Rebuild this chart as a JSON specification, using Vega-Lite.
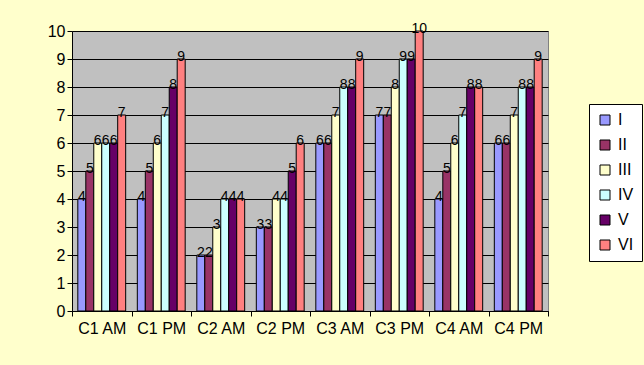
{
  "$schema": "https://vega.github.io/schema/vega-lite/v6.json",
  "width": 476,
  "height": 280,
  "autosize": {"type": "none"},
  "padding": {"left": 72, "top": 31, "right": 96, "bottom": 54},
  "background": "#FFFFCC",
  "config": {
    "view": {"fill": "#C0C0C0", "stroke": "#808080", "strokeWidth": 1},
    "font": "Liberation Sans"
  },
  "data": {
    "values": [
      {"cat": "C1 AM", "series": "I", "value": 4},
      {"cat": "C1 AM", "series": "II", "value": 5},
      {"cat": "C1 AM", "series": "III", "value": 6},
      {"cat": "C1 AM", "series": "IV", "value": 6},
      {"cat": "C1 AM", "series": "V", "value": 6},
      {"cat": "C1 AM", "series": "VI", "value": 7},
      {"cat": "C1 PM", "series": "I", "value": 4},
      {"cat": "C1 PM", "series": "II", "value": 5},
      {"cat": "C1 PM", "series": "III", "value": 6},
      {"cat": "C1 PM", "series": "IV", "value": 7},
      {"cat": "C1 PM", "series": "V", "value": 8},
      {"cat": "C1 PM", "series": "VI", "value": 9},
      {"cat": "C2 AM", "series": "I", "value": 2},
      {"cat": "C2 AM", "series": "II", "value": 2},
      {"cat": "C2 AM", "series": "III", "value": 3},
      {"cat": "C2 AM", "series": "IV", "value": 4},
      {"cat": "C2 AM", "series": "V", "value": 4},
      {"cat": "C2 AM", "series": "VI", "value": 4},
      {"cat": "C2 PM", "series": "I", "value": 3},
      {"cat": "C2 PM", "series": "II", "value": 3},
      {"cat": "C2 PM", "series": "III", "value": 4},
      {"cat": "C2 PM", "series": "IV", "value": 4},
      {"cat": "C2 PM", "series": "V", "value": 5},
      {"cat": "C2 PM", "series": "VI", "value": 6},
      {"cat": "C3 AM", "series": "I", "value": 6},
      {"cat": "C3 AM", "series": "II", "value": 6},
      {"cat": "C3 AM", "series": "III", "value": 7},
      {"cat": "C3 AM", "series": "IV", "value": 8},
      {"cat": "C3 AM", "series": "V", "value": 8},
      {"cat": "C3 AM", "series": "VI", "value": 9},
      {"cat": "C3 PM", "series": "I", "value": 7},
      {"cat": "C3 PM", "series": "II", "value": 7},
      {"cat": "C3 PM", "series": "III", "value": 8},
      {"cat": "C3 PM", "series": "IV", "value": 9},
      {"cat": "C3 PM", "series": "V", "value": 9},
      {"cat": "C3 PM", "series": "VI", "value": 10},
      {"cat": "C4 AM", "series": "I", "value": 4},
      {"cat": "C4 AM", "series": "II", "value": 5},
      {"cat": "C4 AM", "series": "III", "value": 6},
      {"cat": "C4 AM", "series": "IV", "value": 7},
      {"cat": "C4 AM", "series": "V", "value": 8},
      {"cat": "C4 AM", "series": "VI", "value": 8},
      {"cat": "C4 PM", "series": "I", "value": 6},
      {"cat": "C4 PM", "series": "II", "value": 6},
      {"cat": "C4 PM", "series": "III", "value": 7},
      {"cat": "C4 PM", "series": "IV", "value": 8},
      {"cat": "C4 PM", "series": "V", "value": 8},
      {"cat": "C4 PM", "series": "VI", "value": 9}
    ]
  },
  "encoding": {
    "x": {
      "field": "cat",
      "type": "nominal",
      "sort": null,
      "scale": {"paddingInner": 0, "paddingOuter": 0},
      "axis": {
        "title": null,
        "labelAngle": 0,
        "labelFontSize": 16,
        "labelColor": "black",
        "domainColor": "black",
        "tickColor": "black",
        "tickBand": "extent",
        "tickSize": 5,
        "labelPadding": 4
      }
    },
    "xOffset": {
      "field": "series",
      "sort": null,
      "scale": {"paddingInner": 0, "paddingOuter": 0.73}
    },
    "y": {
      "field": "value",
      "type": "quantitative",
      "scale": {"domain": [0, 10], "nice": false},
      "axis": {
        "title": null,
        "values": [0, 1, 2, 3, 4, 5, 6, 7, 8, 9, 10],
        "labelOverlap": false,
        "labelFontSize": 16,
        "labelColor": "black",
        "domainColor": "black",
        "tickColor": "black",
        "gridColor": "black",
        "gridOpacity": 1,
        "tickSize": 5,
        "labelPadding": 2
      }
    }
  },
  "layer": [
    {
      "mark": {"type": "bar", "stroke": "black", "strokeWidth": 1},
      "encoding": {
        "color": {
          "field": "series",
          "type": "nominal",
          "sort": null,
          "scale": {
            "domain": ["I", "II", "III", "IV", "V", "VI"],
            "range": ["#9999FF", "#993366", "#FFFFCC", "#CCFFFF", "#660066", "#FF8080"]
          },
          "legend": {
            "title": null,
            "orient": "none",
            "legendX": 517,
            "legendY": 73,
            "symbolType": "square",
            "symbolSize": 100,
            "symbolStrokeColor": "black",
            "symbolStrokeWidth": 1,
            "symbolOpacity": 1,
            "labelFontSize": 16,
            "labelColor": "black",
            "labelOffset": 5,
            "rowPadding": 9,
            "padding": 8,
            "fillColor": "white",
            "strokeColor": "black"
          }
        }
      }
    },
    {
      "mark": {"type": "text", "fontSize": 14, "baseline": "alphabetic", "dy": 2, "color": "black"},
      "encoding": {
        "text": {"field": "value", "type": "quantitative"}
      }
    }
  ]
}
